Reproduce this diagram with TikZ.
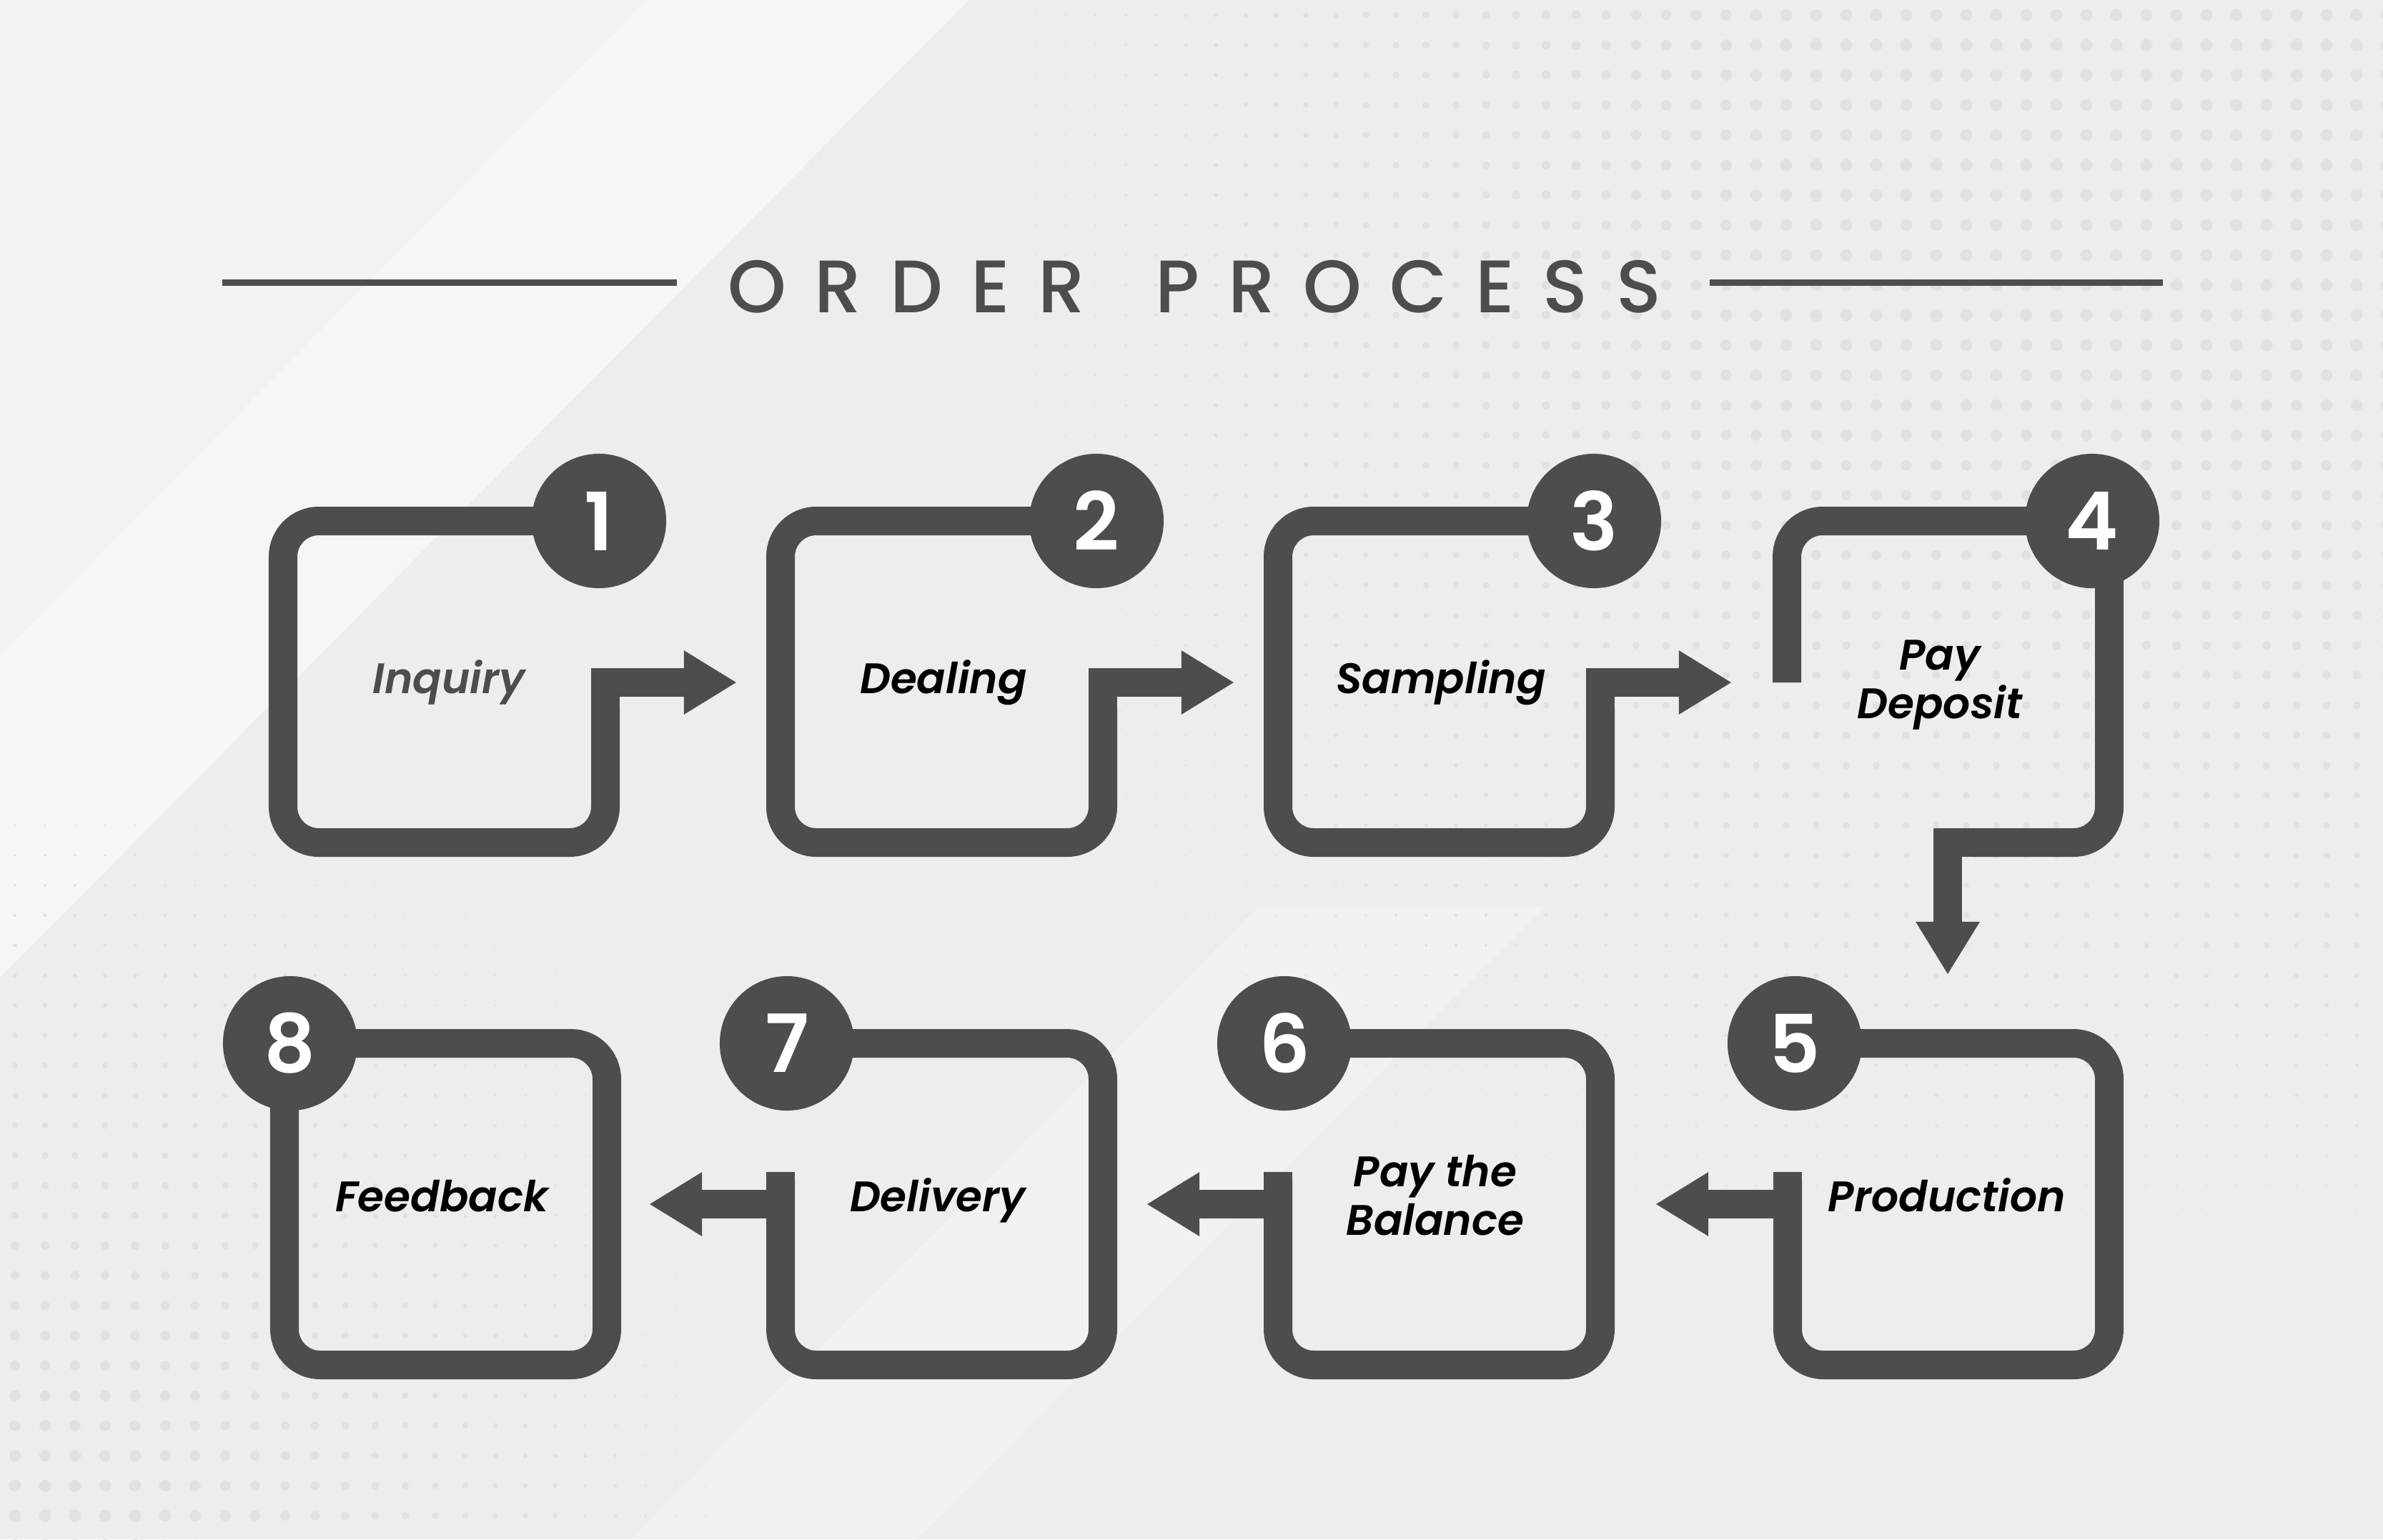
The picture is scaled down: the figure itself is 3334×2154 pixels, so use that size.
\documentclass[tikz,border=0pt]{standalone}
\usepackage{fontspec}
\usetikzlibrary{arrows.meta}
\setmainfont{Poppins}
\IfFontExistsTF{Poppins SemiBold Italic}{\newfontfamily\labfont{Poppins SemiBold Italic}}{\newfontfamily\labfont{Poppins}[FakeSlant=0.2,FakeBold=1.5]}
\IfFontExistsTF{Poppins SemiBold}{\newfontfamily\numfont{Poppins SemiBold}}{\newfontfamily\numfont{Poppins}[FakeBold=1.5]}
\IfFontExistsTF{Poppins Medium}{\newfontfamily\titlefont{Poppins Medium}[LetterSpace=38]}{\newfontfamily\titlefont{Poppins}[LetterSpace=38]}
\definecolor{dg}{HTML}{4D4D4D}
\definecolor{bgc}{HTML}{EDEDED}
\definecolor{dotc}{HTML}{E1E1E1}
\begin{document}
\begin{tikzpicture}[x=0.01cm,y=-0.01cm,
  flow/.style={draw=dg,line width=0.4cm,rounded corners=0.5cm,line join=miter},
  sharpflow/.style={draw=dg,line width=0.4cm,line join=miter},
  arr/.style={-{Triangle[length=7.4mm,width=8.4mm]}},
  badge/.style={circle,fill=dg,minimum size=1.88cm,inner sep=0pt,text=white,font=\numfont\fontsize{32pt}{32pt}\selectfont},
  lab/.style={font=\labfont\fontsize{17pt}{19.3pt}\selectfont,align=center,anchor=base,inner sep=0pt},
  rule/.style={draw=dg,line width=0.09cm}]
% background
\fill[bgc] (0,0) rectangle (3334,2154);
\useasboundingbox (0,0) rectangle (3334,2154);
\fill[color=white,opacity=0.3] (0,0) -- (1355,0) -- (0,1368) -- cycle;
\fill[color=white,opacity=0.35] (905,0) -- (1355,0) -- (0,1368) -- (0,918) -- cycle;
\fill[color=white,opacity=0.25] (882,2154) -- (1760,1270) -- (2160,1270) -- (1282,2154) -- cycle;
% halftone dots
\foreach \i in {0,...,79}{\foreach \j in {0,...,51}{%
  \pgfmathsetmacro\xx{\i*42+21}%
  \pgfmathsetmacro\yy{\j*42+21}%
  \pgfmathsetmacro\ra{8.5*min(1,max(0,(\xx-1300)/1200))*min(1,max(0,1-(\yy-500)/1400))}%
  \pgfmathsetmacro\rb{9*min(1,max(0,(\yy-1000)/1154))*min(1,max(0,1-(\xx-200)/900))}%
  \pgfmathsetmacro\rr{max(\ra,\rb)}%
  \ifdim\rr pt>1pt \fill[dotc] (\xx,\yy) circle[radius=\rr*0.01cm];\fi
}}
% title
\node[anchor=base west,inner sep=0pt,text=dg,font=\titlefont\fontsize{29.6pt}{30pt}\selectfont] (title) at (1018,437) {ORDER\hspace{0.98cm}PROCESS};
\draw[rule] (311,395) -- (947,395);
\draw[rule] (2392,395) -- (3026,395);
% badge centres
\coordinate (c1) at (838,729);
\coordinate (c2) at (1534,729);
\coordinate (c3) at (2230,729);
\coordinate (c4) at (2927,729);
\coordinate (c5) at (2511,1460);
\coordinate (c6) at (1797,1460);
\coordinate (c7) at (1101,1460);
\coordinate (c8) at (406,1460);
% row 1
\draw[flow] (c1) -- (396,729) -- (396,1179) -- (847,1179) -- (847,990);
\draw[sharpflow,arr] (847,1000) -- (847,955) -- (1031,955);
\draw[flow] (c2) -- (1092,729) -- (1092,1179) -- (1543,1179) -- (1543,990);
\draw[sharpflow,arr] (1543,1000) -- (1543,955) -- (1727,955);
\draw[flow] (c3) -- (1788,729) -- (1788,1179) -- (2239,1179) -- (2239,990);
\draw[sharpflow,arr] (2239,1000) -- (2239,955) -- (2423,955);
\draw[flow] (2500,955) -- (2500,729) -- (2951,729) -- (2951,1179) -- (2760,1179);
\draw[sharpflow,arr] (2770,1179) -- (2725,1179) -- (2725,1364);
% row 2
\draw[flow] (c5) -- (2951,1460) -- (2951,1910) -- (2501,1910) -- (2501,1650);
\draw[sharpflow,arr] (2501,1640) -- (2501,1685) -- (2316,1685);
\draw[flow] (c6) -- (2239,1460) -- (2239,1910) -- (1788,1910) -- (1788,1650);
\draw[sharpflow,arr] (1788,1640) -- (1788,1685) -- (1604,1685);
\draw[flow] (c7) -- (1543,1460) -- (1543,1910) -- (1092,1910) -- (1092,1650);
\draw[sharpflow,arr] (1092,1640) -- (1092,1685) -- (908,1685);
\draw[flow] (c8) -- (849,1460) -- (849,1910) -- (398,1910) -- (398,1500);
% badges
\node[badge] (n1) at (c1) {1};
\node[badge] (n2) at (c2) {2};
\node[badge] (n3) at (c3) {3};
\node[badge] (n4) at (c4) {4};
\node[badge] (n5) at (c5) {5};
\node[badge] (n6) at (c6) {6};
\node[badge] (n7) at (c7) {7};
\node[badge] (n8) at (c8) {8};
% labels
\node[lab,text=dg] (l1) at (628,970) {Inquiry};
\node[lab] (l2) at (1320,970) {Dealing};
\node[lab] (l3) at (2016,970) {Sampling};
\node[lab] (l4) at (2714,1005) {Pay\\Deposit};
\node[lab] (l5) at (2724,1695) {Production};
\node[lab] (l6) at (2008,1728) {Pay the\\Balance};
\node[lab] (l7) at (1312,1695) {Delivery};
\node[lab] (l8) at (618,1695) {Feedback};
\end{tikzpicture}
\end{document}
